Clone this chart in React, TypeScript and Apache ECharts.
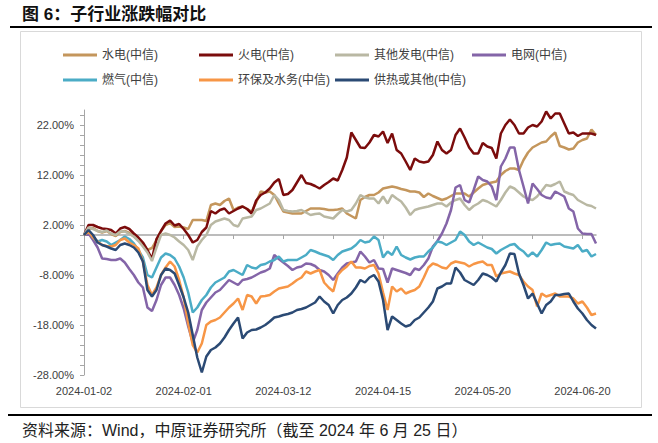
import React, { useEffect, useRef } from "react";
import * as echarts from "echarts";

const tradingDays: [number, number[]][] = [
  [1, [2, 3, 4, 5, 8, 9, 10, 11, 12, 15, 16, 17, 18, 19, 22, 23, 24, 25, 26, 29, 30, 31]],
  [2, [1, 2, 5, 6, 7, 8, 19, 20, 21, 22, 23, 26, 27, 28, 29]],
  [3, [1, 4, 5, 6, 7, 8, 11, 12, 13, 14, 15, 18, 19, 20, 21, 22, 25, 26, 27, 28, 29]],
  [4, [1, 2, 3, 8, 9, 10, 11, 12, 15, 16, 17, 18, 19, 22, 23, 24, 25, 26, 29, 30]],
  [5, [6, 7, 8, 9, 10, 13, 14, 15, 16, 17, 20, 21, 22, 23, 24, 27, 28, 29, 30, 31]],
  [6, [3, 4, 5, 6, 7, 11, 12, 13, 14, 17, 18, 19, 20, 21, 24, 25]],
];
const pad = (n: number) => (n < 10 ? "0" + n : "" + n);
const dates: string[] = tradingDays.flatMap(([m, ds]) => ds.map((d) => `2024-${pad(m)}-${pad(d)}`));

const seriesNames = ["水电(中信)", "火电(中信)", "其他发电(中信)", "电网(中信)", "燃气(中信)", "环保及水务(中信)", "供热或其他(中信)"];

const hydro = [
  0, 1.2, 1.4, 0.8, 0.5, 0.8, 0.2, -0.2, 0.6, 0.8,
  0.4, -0.3, -1.0, -2.0, -3.0, -2.6, -1.0, 0.8, 2.0, 2.4,
  1.6, 1.7, 1.5, 1.2, 3.0, 3.0, 3.0, 2.8, 6.0, 6.3,
  6.0, 6.8, 7.3, 5.0, 5.5, 5.7, 5.2, 4.7, 6.5, 8.7,
  8.5, 8.7, 8.0, 6.3, 4.7, 4.5, 4.3, 4.3, 4.3, 4.8,
  5.3, 5.3, 5.3, 5.2, 5.0, 5.0, 5.1, 5.3, 4.3, 3.8,
  3.3, 7.0, 7.6, 8.0, 8.0, 8.5, 9.3, 9.5, 9.7, 9.5,
  9.2, 9.0, 8.7, 8.7, 8.5, 7.6, 8.3, 7.8, 7.4, 7.0,
  7.3, 7.8, 8.3, 8.3, 8.3, 7.7, 8.5, 9.3, 10.0, 10.3,
  10.5, 10.7, 12.0, 12.8, 13.3, 13.3, 13.0, 15.0, 16.5, 17.5,
  18.0, 18.5, 18.7, 19.7, 20.5, 17.8, 17.5, 17.1, 17.3, 18.5,
  19.0, 19.3, 21.1, 20.0,
];
const thermal = [
  0, 2.0, 2.0, 1.6, 1.3, 1.2, 1.0, 0.3, 1.3, 1.6,
  1.2, 0.3, -0.5, -1.5, -3.0, -4.8, -0.8, 0.8, 2.3, 2.9,
  1.9, 2.2, 1.2, 0.0, -1.5, -1.0, 0.6, 1.5, 4.8, 4.3,
  5.0, 5.3, 4.3, 4.8, 5.3, 5.7, 5.2, 4.3, 6.9, 8.0,
  8.5, 9.3, 10.5, 11.2, 8.0, 8.2, 9.0, 10.5, 12.0, 10.4,
  10.2, 9.8, 9.3, 10.0, 10.6, 11.3, 10.9, 13.0, 15.5, 20.5,
  19.0, 17.5, 17.4, 18.5, 20.0, 19.7, 20.7, 18.4, 20.3, 17.0,
  16.3, 14.7, 13.0, 15.3, 14.7, 14.5, 14.7, 16.0, 18.7, 17.0,
  16.3, 17.0, 20.0, 21.3, 19.5, 17.5, 16.3, 16.3, 18.4, 17.7,
  17.4, 15.3, 20.3, 22.0, 23.1, 22.0, 20.3, 20.3, 21.5, 22.0,
  21.7, 22.7, 24.7, 23.3, 24.3, 24.3, 22.3, 20.3, 20.5, 19.8,
  20.3, 20.3, 20.3, 20.0,
];
const otherPower = [
  0, 1.5, 1.2, 0.8, 0.6, 0.9, 0.3, 0.0, 0.7, 0.7,
  0.2, -0.3, -1.2, -2.3, -3.5, -5.2, -2.5, 0.0, 0.3, 0.0,
  -0.5, -1.3, -2.0, -3.0, -5.0, -2.3, -1.0, 0.0, 2.0, 2.7,
  3.0, 3.3, 3.0, 2.0, 1.7, 3.3, 3.5, 3.7, 5.0, 5.3,
  5.8, 6.3, 8.0, 7.0, 5.0, 4.8, 4.7, 4.8, 5.0, 4.5,
  4.0, 4.2, 4.3, 3.7, 3.5, 3.3, 4.2, 5.0, 4.7, 5.0,
  6.3, 8.0, 7.5, 7.3, 7.3, 6.3, 7.7, 6.3, 8.0, 7.3,
  6.7, 5.5, 4.0, 5.0, 5.3, 5.5, 5.7, 6.0, 6.3, 6.3,
  5.7, 6.5, 7.0, 7.3, 6.0, 5.0, 5.8, 6.3, 7.0, 6.7,
  6.2, 5.7, 7.0, 8.5, 9.7, 9.3, 8.5, 7.7, 7.2, 7.0,
  7.7, 8.8, 10.0, 9.8, 10.2, 10.7, 8.7, 8.3, 8.0, 7.0,
  6.5, 6.0, 5.8, 5.3,
];
const powerGrid = [
  0, 0.3, -1.0, -2.5, -4.7, -4.8, -5.0, -5.0, -4.7, -5.5,
  -6.8, -8.0, -9.5, -10.5, -14.5, -15.2, -13.0, -10.0, -8.5, -8.5,
  -10.0, -12.0, -14.7, -18.3, -21.5, -19.0, -15.0, -13.5, -12.5, -11.5,
  -11.0, -10.0, -9.0, -9.5, -10.0, -9.0, -8.8, -8.5, -8.0, -7.5,
  -7.2, -6.7, -4.0, -4.8, -5.5, -6.2, -7.0, -6.5, -6.3, -5.7,
  -5.8, -6.2, -7.0, -7.3, -8.0, -9.0, -7.7, -6.5, -5.7, -5.5,
  -5.3, -3.3, -4.3, -5.5, -5.0, -6.7, -6.8, -9.5, -6.7, -7.0,
  -7.3, -7.6, -8.0, -6.7, -7.0, -6.0, -4.7, -2.3, -1.2, 0.3,
  2.3, 5.0, 9.5, 10.0, 7.0, 6.5, 9.0, 11.7, 11.0, 10.7,
  9.7, 7.0, 13.7, 15.3, 17.5, 17.5, 13.0, 9.7, 6.3, 10.3,
  9.2, 8.0, 7.5, 7.3, 8.7, 8.2, 7.7, 5.3, 4.7, 1.3,
  0.3, 0.2, 0.2, -1.7,
];
const gas = [
  0, 0.8, -0.5, -1.3, -1.0, -1.3, -2.0, -1.5, -1.0, -0.3,
  -0.8, -1.7, -3.0, -4.5, -8.0, -8.5, -6.5, -4.5, -3.7, -4.0,
  -4.7, -6.3, -8.5, -11.5, -15.5, -14.5, -13.0, -12.0, -10.5, -9.5,
  -9.0, -8.5, -7.3, -7.0, -7.5, -8.0, -6.0, -6.5, -6.7, -6.0,
  -5.8, -5.3, -5.0, -4.3, -5.3, -5.0, -5.0, -5.0, -4.5, -4.0,
  -3.0, -3.3, -3.7, -4.0, -4.3, -5.0, -4.0, -3.3, -3.0, -2.7,
  -2.0, -1.0, -1.5, -1.3, -0.3, -1.0, -4.5, -3.3, -4.0, -2.3,
  -4.0, -4.5, -4.9, -4.5, -4.3, -4.3, -3.3, -2.5, -1.3, -1.5,
  -2.0, -1.5, -1.0, 0.7, 0.0, -1.3, -2.0, -1.5, -2.0, -2.5,
  -2.8, -3.7, -3.0, -2.5, -2.0, -1.8, -2.7, -3.3, -4.3, -3.5,
  -4.3, -3.0, -1.5, -2.0, -1.8, -1.7, -2.3, -2.5, -2.7, -2.0,
  -3.3, -3.0, -4.3, -3.8,
];
const envWater = [
  0, 0.7, -0.5, -1.3, -2.0, -2.2, -2.3, -2.0, -1.0, -0.7,
  -1.5, -2.0, -2.7, -5.3, -10.0, -12.0, -10.5, -8.0, -6.5, -5.3,
  -6.3, -9.0, -12.5, -17.7, -22.0, -23.5, -21.7, -18.0, -17.3, -17.0,
  -16.5, -15.5, -14.5, -13.7, -12.7, -15.0, -12.0, -12.3, -13.7, -12.3,
  -12.2, -12.0, -11.3, -10.7, -10.5, -10.3, -9.7, -9.0, -8.5, -7.3,
  -7.7, -7.3, -7.0, -9.5, -10.5, -11.3, -8.0, -7.0, -6.3, -5.3,
  -6.5, -6.5, -6.7, -6.2, -6.0, -7.7, -11.5, -15.0, -10.3, -11.3,
  -10.7, -11.7, -11.3, -11.0, -10.3, -8.5, -6.5, -5.7, -6.0, -6.5,
  -6.7, -5.7, -5.3, -5.5, -5.7, -6.3, -5.8, -5.5, -5.3, -6.0,
  -6.0, -8.3, -7.7, -7.5, -7.3, -7.7, -8.0, -9.3, -10.3, -11.0,
  -14.3, -11.7, -12.3, -12.0, -11.7, -12.3, -12.3, -12.3, -12.7, -13.7,
  -13.3, -14.5, -16.0, -15.7,
];
const heatOther = [
  0, 1.0, 0.0, -1.5, -2.0, -2.3, -2.7, -3.0, -2.0, -1.7,
  -2.0, -2.5, -3.5, -5.3, -11.0, -12.3, -11.0, -8.0, -6.7, -7.0,
  -7.7, -10.0, -12.5, -15.5, -20.0, -24.5, -27.5, -24.3, -23.0, -22.5,
  -21.7, -20.5, -19.0, -17.7, -16.5, -20.7, -19.5, -19.0, -18.9, -18.5,
  -18.0, -17.3, -16.5, -16.3, -16.0, -15.8, -15.5, -15.0, -14.8, -14.5,
  -14.0, -13.5, -12.3, -13.3, -14.0, -15.7, -14.0, -13.0, -12.5, -11.7,
  -10.5, -9.0, -9.5, -8.5, -8.0, -9.3, -13.0, -19.0, -16.3, -17.0,
  -17.7, -18.3, -18.0, -17.0, -16.5, -15.5, -14.5, -13.3, -10.7, -10.3,
  -9.7, -9.7, -6.5, -7.5, -9.0, -9.5, -10.0, -9.0, -7.7, -8.0,
  -8.5, -9.3, -7.5, -6.0, -3.7, -3.8, -7.7, -10.0, -12.7, -11.7,
  -13.7, -15.7, -14.0, -13.3, -12.0, -12.0, -11.8, -11.7, -13.3, -14.7,
  -15.7, -17.0, -18.0, -18.7,
];

const seriesValues = [hydro, thermal, otherPower, powerGrid, gas, envWater, heatOther];
const seriesColors = ["#C4965C", "#7B0C0C", "#B9B8A3", "#8465A8", "#4BACC6", "#F79646", "#2B4A74"];
const yLabelValues = [-28, -18, -8, 2, 12, 22];

const titleText = "图 6：子行业涨跌幅对比";
const sourceText = "资料来源：Wind，中原证券研究所（截至 2024 年 6 月 25 日）";

const legendLayout = [
  { left: 63, top: 49 },
  { left: 199, top: 49 },
  { left: 335, top: 49 },
  { left: 472, top: 49 },
  { left: 63, top: 74 },
  { left: 199, top: 74 },
  { left: 335, top: 74 },
];

const FONT = "'Liberation Sans', Arial, 'Noto Sans CJK SC', sans-serif";

export default function App() {
  const ref = useRef<HTMLDivElement>(null);
  useEffect(() => {
    if (!ref.current) return;
    const chart = echarts.init(ref.current, null, { renderer: "svg" });
    const option: any = {
      animation: false,
      backgroundColor: "#ffffff",
      grid: { left: 84, right: 62, top: 110, bottom: 68, containLabel: false },
      legend: seriesNames.map((name, i) => ({
        data: [name],
        left: legendLayout[i].left,
        top: legendLayout[i].top,
        padding: 0,
        icon: "rect",
        itemWidth: 34,
        itemHeight: 3,
        selectedMode: false,
        textStyle: { fontSize: 12, color: "#404040", fontFamily: FONT },
      })),
      xAxis: [
        {
          type: "category",
          data: dates,
          boundaryGap: false,
          position: "bottom",
          axisLine: { show: false, onZero: false },
          axisTick: { show: false },
          axisLabel: {
            interval: 21,
            margin: 10,
            fontSize: 11,
            color: "#404040",
            fontFamily: FONT,
          },
          splitLine: { show: false },
        },
        {
          type: "category",
          data: dates,
          boundaryGap: false,
          position: "top",
          axisLine: { show: true, onZero: true, lineStyle: { color: "#A6A6A6", width: 1.5 } },
          axisTick: { show: true, inside: true, interval: 10, length: 4, lineStyle: { color: "#A6A6A6" } },
          axisLabel: { show: false },
          splitLine: { show: false },
        },
      ],
      yAxis: {
        type: "value",
        min: -28,
        max: 25,
        interval: 2,
        axisLine: { show: true, lineStyle: { color: "#A6A6A6", width: 1 } },
        axisTick: { show: true, length: 4, lineStyle: { color: "#A6A6A6" } },
        splitLine: { show: false },
        axisLabel: {
          margin: 10,
          fontSize: 11,
          color: "#404040",
          fontFamily: FONT,
          showMaxLabel: false,
          formatter: (v: number) => (yLabelValues.includes(Math.round(v)) && Math.abs(v - Math.round(v)) < 1e-6 ? v.toFixed(2) + "%" : ""),
        },
      },
      series: seriesNames.map((name, i) => ({
        name,
        type: "line",
        data: seriesValues[i],
        xAxisIndex: 0,
        showSymbol: false,
        symbol: "none",
        color: seriesColors[i],
        lineStyle: { width: 2.5, color: seriesColors[i] },
      })),
      graphic: [
        {
          type: "text",
          x: 22,
          y: 14,
          style: {
            text: titleText,
            fontSize: 17,
            fontWeight: "bold",
            fontFamily: FONT,
            fill: "#111111",
            verticalAlign: "middle",
          },
        },
        {
          type: "line",
          shape: { x1: 10, y1: 27, x2: 652, y2: 27 },
          style: { stroke: "#000000", lineWidth: 2 },
        },
        {
          type: "rect",
          shape: { x: 20.5, y: 31.5, width: 621, height: 376 },
          style: { fill: "none", stroke: "#D9D9D9", lineWidth: 1 },
        },
        {
          type: "line",
          shape: { x1: 8, y1: 415, x2: 652, y2: 415 },
          style: { stroke: "#000000", lineWidth: 2 },
        },
        {
          type: "text",
          x: 22,
          y: 430,
          style: {
            text: sourceText,
            fontSize: 16,
            fontFamily: FONT,
            fill: "#222222",
            verticalAlign: "middle",
          },
        },
      ],
    };
    chart.setOption(option);
    return () => chart.dispose();
  }, []);
  return (
    <div
      ref={ref}
      style={{ position: "absolute", left: 0, top: 0, width: 658, height: 443 }}
    />
  );
}
